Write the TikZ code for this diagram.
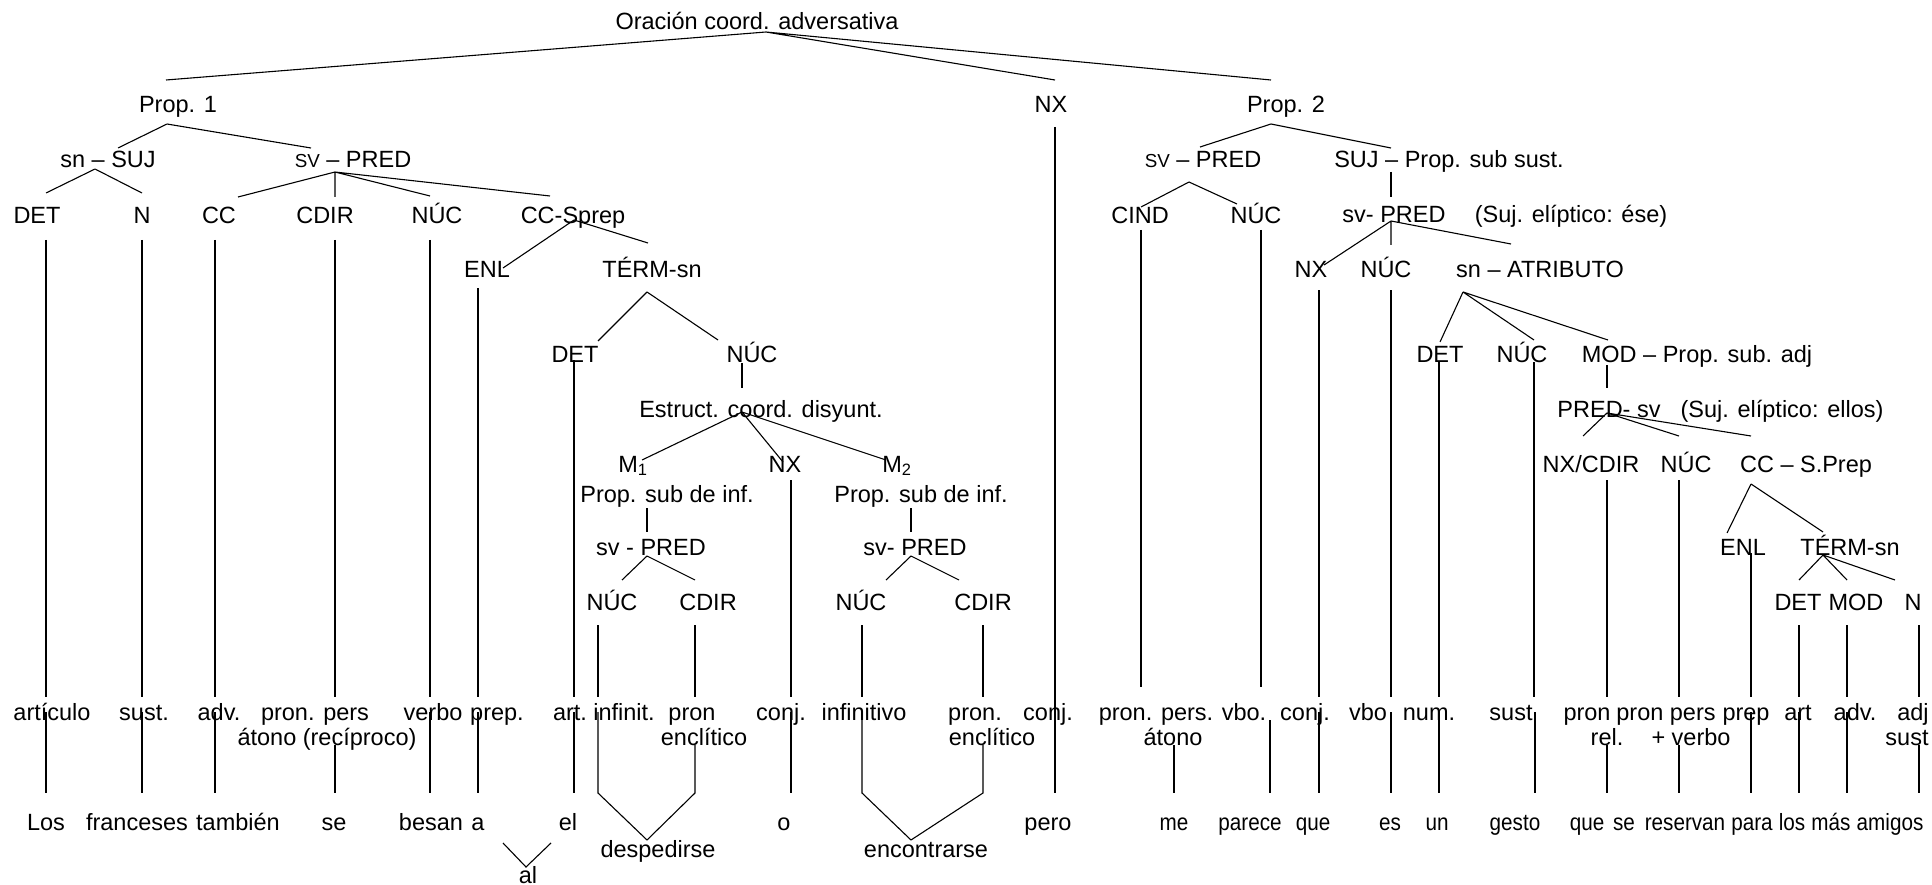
\documentclass[tikz,border=0pt]{standalone}
\usepackage{fontspec}
\setmainfont{Liberation Sans}
\newcommand\smsv{{\fontsize{18.8}{20}\selectfont SV}}
\newcommand\cnd[1]{\scalebox{0.88}[1]{#1}}

\begin{document}
\begin{tikzpicture}[x=1pt, y=-1pt, line width=1.1pt,
    lbl/.style={inner sep=0pt, anchor=base, font=\fontsize{23.5}{28}\selectfont},
    ]
  \useasboundingbox (0,0) rectangle (1932,885);

  \begin{scope}[every node/.style={lbl}]
    \node (orac) at (757,30) {Oración coord. adversativa};
    \node (p1) at (178,113) {Prop. 1};
    \node (nx0) at (1051,113) {NX};
    \node (p2) at (1286,113) {Prop. 2};

    \node (snsuj) at (108,168) {sn – SUJ};
    \node (svpred) at (353,168) {\smsv{} – PRED};
    \node (det1) at (37,224) {DET};
    \node (n1) at (142,224) {N};
    \node (cc1) at (219,224) {CC};
    \node (cdir1) at (325,224) {CDIR};
    \node (nuc1) at (437,224) {NÚC};
    \node (ccsp) at (573,224) {CC-Sprep};
    \node (enl1) at (487,278) {ENL};
    \node (term1) at (652,278) {TÉRM-sn};
    \node (det2) at (575,362) {DET};
    \node (nuc2) at (752,362) {NÚC};
    \node (estr) at (761,417) {Estruct. coord. disyunt.};
    \node (m1) at (633,472) {M\textsubscript{1}};
    \node (nx1) at (785,472) {NX};
    \node (m2) at (897,472) {M\textsubscript{2}};
    \node (psi1) at (667,502) {Prop. sub de inf.};
    \node (psi2) at (921,502) {Prop. sub de inf.};
    \node (svp1) at (651,555) {sv - PRED};
    \node (svp2) at (915,555) {sv- PRED};
    \node (nuc3) at (612,610) {NÚC};
    \node (cdir3) at (708,610) {CDIR};
    \node (nuc4) at (861,610) {NÚC};
    \node (cdir4) at (983,610) {CDIR};

    \node (svpredR) at (1203,168) {\smsv{} – PRED};
    \node (sujps) at (1449,168) {SUJ – Prop. sub sust.};
    \node (cind) at (1140,224) {CIND};
    \node (nuc5) at (1256,224) {NÚC};
    \node (svp3) at (1394,223) {sv- PRED};
    \node (elip1) at (1571,223) {(Suj. elíptico: ése)};
    \node (nx2) at (1311,278) {NX};
    \node (nuc6) at (1386,278) {NÚC};
    \node (snatr) at (1540,278) {sn – ATRIBUTO};
    \node (det3) at (1440,362) {DET};
    \node (nuc7) at (1522,362) {NÚC};
    \node (modp) at (1697,362) {MOD – Prop. sub. adj};
    \node (predsv) at (1609,417) {PRED- sv};
    \node (elip2) at (1782,417) {(Suj. elíptico: ellos)};
    \node (nxcdir) at (1591,472) {NX/CDIR};
    \node (nuc8) at (1686,472) {NÚC};
    \node (ccsprep) at (1806,472) {CC – S.Prep};
    \node (enl2) at (1743,555) {ENL};
    \node (term2) at (1850,555) {TÉRM-sn};
    \node (det4) at (1798,610) {DET};
    \node (mod4) at (1856,610) {MOD};
    \node (n4) at (1913,610) {N};

    \node (pArt) at (52,720) {artículo};
    \node (pSust) at (144,720) {sust.};
    \node (pAdv) at (219,720) {adv.};
    \node (pPronA) at (315,720) {pron. pers};
    \node (pPronB) at (327,745) {átono (recíproco)};
    \node (pVerbo) at (433,720) {verbo};
    \node (pPrep) at (497,720) {prep.};
    \node (pArt2) at (570,720) {art.};
    \node (pInf) at (624,720) {infinit.};
    \node (pEncA) at (692,720) {pron};
    \node (pEncB) at (704,745) {enclítico};
    \node (pConj) at (781,720) {conj.};
    \node (pInf2) at (864,720) {infinitivo};
    \node (pEnc2A) at (975,720) {pron.};
    \node (pEnc2B) at (992,745) {enclítico};
    \node (pConj2) at (1048,720) {conj.};
    \node (pAtA) at (1156,720) {pron. pers.};
    \node (pAtB) at (1173,745) {átono};
    \node (pVbo) at (1244,720) {vbo.};
    \node (pConj3) at (1305,720) {conj.};
    \node (pVbo2) at (1368,720) {vbo};
    \node (pNum) at (1429,720) {num.};
    \node (pSust2) at (1511,720) {sust};
    \node (pRelA) at (1587,720) {pron};
    \node (pRelB) at (1607,745) {rel.};
    \node (pVerA) at (1666,720) {pron pers};
    \node (pVerB) at (1691,745) {+ verbo};
    \node (pPrep2) at (1746,720) {prep};
    \node (pArt3) at (1798,720) {art};
    \node (pAdv2) at (1855,720) {adv.};
    \node (pAdjA) at (1913,720) {adj};
    \node (pAdjB) at (1907,745) {sust};

    \node (wLos) at (46,830) {Los};
    \node (wFranceses) at (137,830) {franceses};
    \node (wTambien) at (238,830) {también};
    \node (wSe) at (334,830) {se};
    \node (wBesan) at (431,830) {besan};
    \node (wA) at (478,830) {a};
    \node (wEl) at (568,830) {el};
    \node (wAl) at (528,883) {al};
    \node (wDesp) at (658,857) {despedirse};
    \node (wO) at (784,830) {o};
    \node (wEnc) at (926,857) {encontrarse};
    \node (wPero) at (1048,830) {pero};
    \node (wMe) at (1174,830) {\cnd{me}};
    \node (wParece) at (1250,830) {\cnd{parece}};
    \node (wQue) at (1313,830) {\cnd{que}};
    \node (wEs) at (1390,830) {\cnd{es}};
    \node (wUn) at (1437,830) {\cnd{un}};
    \node (wGesto) at (1515,830) {\cnd{gesto}};
    \node (wQue2) at (1587,830) {\cnd{que}};
    \node (wSe2) at (1624,830) {\cnd{se}};
    \node (wReservan) at (1685,830) {\cnd{reservan}};
    \node (wPara) at (1752,830) {\cnd{para}};
    \node (wLos2) at (1792,830) {\cnd{los}};
    \node (wMas) at (1831,830) {\cnd{más}};
    \node (wAmigos) at (1890,830) {\cnd{amigos}};
  \end{scope}

  \coordinate (j-orac) at ([shift={(9,2)}]orac.base);
  \draw (j-orac) -- ([shift={(-12,-33)}]p1.base) (j-orac) -- ([shift={(4,-33)}]nx0.base)
        (j-orac) -- ([shift={(-15,-33)}]p2.base);
  \coordinate (j-p1) at ([shift={(-11,11)}]p1.base);
  \draw (j-p1) -- ([shift={(10,-20)}]snsuj.base) (j-p1) -- ([shift={(-42,-20)}]svpred.base);
  \coordinate (j-snsuj) at ([shift={(-13,1)}]snsuj.base);
  \draw (j-snsuj) -- ([shift={(9,-31)}]det1.base) (j-snsuj) -- ([shift={(0,-31)}]n1.base);
  \coordinate (j-svpred) at ([shift={(-18,4)}]svpred.base);
  \draw (j-svpred) -- ([shift={(19,-27)}]cc1.base) (j-svpred) -- ([shift={(10,-27)}]cdir1.base)
        (j-svpred) -- ([shift={(-7,-28)}]nuc1.base) (j-svpred) -- ([shift={(-23,-28)}]ccsp.base);
  \coordinate (j-ccsp) at ([shift={(1,-4)}]ccsp.base);
  \draw (j-ccsp) -- ([shift={(16,-10)}]enl1.base) (j-ccsp) -- ([shift={(-4,-35)}]term1.base);
  \coordinate (j-term1) at ([shift={(-5,14)}]term1.base);
  \draw (j-term1) -- ([shift={(23,-21)}]det2.base) (j-term1) -- ([shift={(-34,-22)}]nuc2.base);
  \draw ([shift={(-10,1)}]nuc2.base) -- ([shift={(-19,-29)}]estr.base);
  \coordinate (j-estr) at ([shift={(-19,-5)}]estr.base);
  \draw (j-estr) -- ([shift={(9,-12)}]m1.base) (j-estr) -- ([shift={(-2,-10)}]nx1.base)
        (j-estr) -- ([shift={(-11,-12)}]m2.base);
  \draw ([shift={(-20,6)}]psi1.base) -- ([shift={(-4,-23)}]svp1.base);
  \coordinate (j-svp1) at ([shift={(-4,1)}]svp1.base);
  \draw (j-svp1) -- ([shift={(10,-30)}]nuc3.base) (j-svp1) -- ([shift={(-13,-30)}]cdir3.base);
  \draw ([shift={(-10,6)}]psi2.base) -- ([shift={(-4,-23)}]svp2.base);
  \coordinate (j-svp2) at ([shift={(-4,1)}]svp2.base);
  \draw (j-svp2) -- ([shift={(25,-30)}]nuc4.base) (j-svp2) -- ([shift={(-24,-30)}]cdir4.base);

  \coordinate (j-p2) at ([shift={(-15,11)}]p2.base);
  \draw (j-p2) -- ([shift={(-3,-21)}]svpredR.base) (j-p2) -- ([shift={(-58,-20)}]sujps.base);
  \coordinate (j-svpredR) at ([shift={(-14,14)}]svpredR.base);
  \draw (j-svpredR) -- ([shift={(1,-17)}]cind.base) (j-svpredR) -- ([shift={(-19,-20)}]nuc5.base);
  \draw ([shift={(-58,4)}]sujps.base) -- ([shift={(-3,-26)}]svp3.base);
  \coordinate (j-svp3) at ([shift={(-3,-2)}]svp3.base);
  \draw (j-svp3) -- ([shift={(13,-13)}]nx2.base) (j-svp3) -- ([shift={(5,-33)}]nuc6.base)
        (j-svp3) -- ([shift={(-29,-34)}]snatr.base);
  \coordinate (j-snatr) at ([shift={(-77,14)}]snatr.base);
  \draw (j-snatr) -- ([shift={(0,-20)}]det3.base) (j-snatr) -- ([shift={(12,-22)}]nuc7.base)
        (j-snatr) -- ([shift={(-89,-22)}]modp.base);
  \draw ([shift={(-90,3)}]modp.base) -- ([shift={(-2,-29)}]predsv.base);
  \coordinate (j-predsv) at ([shift={(-2,-4)}]predsv.base);
  \draw (j-predsv) -- ([shift={(-8,-36)}]nxcdir.base) (j-predsv) -- ([shift={(-7,-36)}]nuc8.base)
        (j-predsv) -- ([shift={(-55,-36)}]ccsprep.base);
  \coordinate (j-ccsprep) at ([shift={(-55,12)}]ccsprep.base);
  \draw (j-ccsprep) -- ([shift={(-16,-22)}]enl2.base) (j-ccsprep) -- ([shift={(-27,-23)}]term2.base);
  \coordinate (j-term2) at ([shift={(-27,0)}]term2.base);
  \draw (j-term2) -- ([shift={(1,-30)}]det4.base) (j-term2) -- ([shift={(-9,-30)}]mod4.base)
        (j-term2) -- ([shift={(-18,-30)}]n4.base);

  \draw ([shift={(9,16)}]det1.base) -- ([shift={(-6,-23)}]pArt.base);
  \draw ([shift={(0,16)}]n1.base) -- ([shift={(-2,-23)}]pSust.base);
  \draw ([shift={(-4,16)}]cc1.base) -- ([shift={(-4,-23)}]pAdv.base);
  \draw ([shift={(10,16)}]cdir1.base) -- ([shift={(20,-23)}]pPronA.base);
  \draw ([shift={(-7,16)}]nuc1.base) -- ([shift={(-3,-23)}]pVerbo.base);
  \draw ([shift={(-9,10)}]enl1.base) -- ([shift={(-19,-23)}]pPrep.base);
  \draw ([shift={(-1,-2)}]det2.base) -- ([shift={(4,-23)}]pArt2.base);
  \draw ([shift={(-14,15)}]nuc3.base) -- ([shift={(-26,-23)}]pInf.base);
  \draw ([shift={(-13,15)}]cdir3.base) -- ([shift={(3,-23)}]pEncA.base);
  \draw ([shift={(6,8)}]nx1.base) -- ([shift={(10,-23)}]pConj.base);
  \draw ([shift={(1,15)}]nuc4.base) -- ([shift={(-2,-23)}]pInf2.base);
  \draw ([shift={(0,15)}]cdir4.base) -- ([shift={(8,-23)}]pEnc2A.base);
  \draw ([shift={(4,14)}]nx0.base) -- ([shift={(7,-37)}]wPero.base);
  \draw ([shift={(1,6)}]cind.base) -- ([shift={(-15,-33)}]pAtA.base);
  \draw ([shift={(5,6)}]nuc5.base) -- ([shift={(17,-33)}]pVbo.base);
  \draw ([shift={(8,12)}]nx2.base) -- ([shift={(14,-23)}]pConj3.base);
  \draw ([shift={(5,12)}]nuc6.base) -- ([shift={(23,-23)}]pVbo2.base);
  \draw ([shift={(-1,0)}]det3.base) -- ([shift={(10,-23)}]pNum.base);
  \draw ([shift={(12,0)}]nuc7.base) -- ([shift={(23,-23)}]pSust2.base);
  \draw ([shift={(-90,3)}]modp.base) -- ([shift={(-90,26)}]modp.base);
  \draw ([shift={(16,8)}]nxcdir.base) -- ([shift={(20,-23)}]pRelA.base);
  \draw ([shift={(-7,8)}]nuc8.base) -- ([shift={(13,-23)}]pVerA.base);
  \draw ([shift={(8,-2)}]enl2.base) -- ([shift={(5,-23)}]pPrep2.base);
  \draw ([shift={(1,15)}]det4.base) -- ([shift={(1,-23)}]pArt3.base);
  \draw ([shift={(-9,15)}]mod4.base) -- ([shift={(-8,-23)}]pAdv2.base);
  \draw ([shift={(6,15)}]n4.base) -- ([shift={(6,-23)}]pAdjA.base);

  \draw ([shift={(-6,-8)}]pArt.base) -- ([shift={(0,-37)}]wLos.base);
  \draw ([shift={(-2,-8)}]pSust.base) -- ([shift={(5,-37)}]wFranceses.base);
  \draw ([shift={(-4,-8)}]pAdv.base) -- ([shift={(-23,-37)}]wTambien.base);
  \draw ([shift={(8,0)}]pPronB.base) -- ([shift={(1,-37)}]wSe.base);
  \draw ([shift={(-3,-8)}]pVerbo.base) -- ([shift={(-1,-37)}]wBesan.base);
  \draw ([shift={(-19,-8)}]pPrep.base) -- ([shift={(0,-37)}]wA.base);
  \draw ([shift={(4,-8)}]pArt2.base) -- ([shift={(6,-37)}]wEl.base);
  \draw ([shift={(-26,-8)}]pInf.base) -- ([shift={(-26,73)}]pInf.base) -- ([shift={(-11,-17)}]wDesp.base);
  \draw ([shift={(-9,0)}]pEncB.base) -- ([shift={(-9,48)}]pEncB.base) -- ([shift={(-11,-17)}]wDesp.base);
  \draw ([shift={(10,-8)}]pConj.base) -- ([shift={(7,-37)}]wO.base);
  \draw ([shift={(-2,-8)}]pInf2.base) -- ([shift={(-2,73)}]pInf2.base) -- ([shift={(-15,-17)}]wEnc.base);
  \draw ([shift={(-9,0)}]pEnc2B.base) -- ([shift={(-9,48)}]pEnc2B.base) -- ([shift={(-15,-17)}]wEnc.base);
  \draw ([shift={(1,0)}]pAtB.base) -- ([shift={(0,-37)}]wMe.base);
  \draw ([shift={(26,0)}]pVbo.base) -- ([shift={(20,-37)}]wParece.base);
  \draw ([shift={(14,-8)}]pConj3.base) -- ([shift={(6,-37)}]wQue.base);
  \draw ([shift={(23,-8)}]pVbo2.base) -- ([shift={(1,-37)}]wEs.base);
  \draw ([shift={(10,-8)}]pNum.base) -- ([shift={(2,-37)}]wUn.base);
  \draw ([shift={(24,-8)}]pSust2.base) -- ([shift={(20,-37)}]wGesto.base);
  \draw ([shift={(0,0)}]pRelB.base) -- ([shift={(20,-37)}]wQue2.base);
  \draw ([shift={(-12,0)}]pVerB.base) -- ([shift={(-6,-37)}]wReservan.base);
  \draw ([shift={(5,-8)}]pPrep2.base) -- ([shift={(-1,-37)}]wPara.base);
  \draw ([shift={(1,-8)}]pArt3.base) -- ([shift={(7,-37)}]wLos2.base);
  \draw ([shift={(-8,-8)}]pAdv2.base) -- ([shift={(16,-37)}]wMas.base);
  \draw ([shift={(12,0)}]pAdjB.base) -- ([shift={(29,-37)}]wAmigos.base);

  \draw ([shift={(-25,-40)}]wAl.base) -- ([shift={(-2,-16)}]wAl.base) -- ([shift={(23,-40)}]wAl.base);
\end{tikzpicture}
\end{document}
